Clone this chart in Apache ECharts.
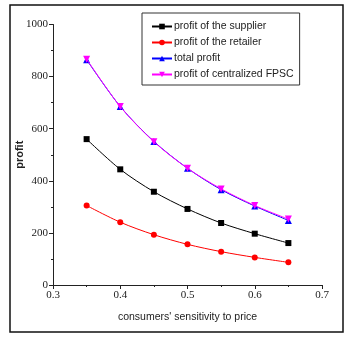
<!DOCTYPE html>
<html><head><meta charset="utf-8">
<script src="https://cdn.jsdelivr.net/npm/echarts@6/dist/echarts.min.js"></script>
<style>html,body{margin:0;padding:0;background:#fff}#c{width:344px;height:339px}</style>
</head><body><div id="c"></div>
<script>
const xValues = [0.35, 0.40, 0.45, 0.50, 0.55, 0.60, 0.65];
const supplierProfit = [560, 444, 358, 292, 238, 197, 161];
const retailerProfit = [305, 241, 193, 156, 128, 106, 87];
const totalProfit = [865, 685, 551, 448, 366, 303, 248];
const centralizedProfit = [867, 685, 550, 448, 369, 305, 253];
const seriesNames = ['profit of the supplier', 'profit of the retailer', 'total profit', 'profit of centralized FPSC'];

const SANS = '"Liberation Sans", Arial, sans-serif';
const pairs = arr => xValues.map((x, i) => [x, arr[i]]);
const chart = echarts.init(document.getElementById('c'), null, {renderer: 'canvas'});
const mk = (name, data, color, symbol, size, z) => ({
  name, type: 'line', data: pairs(data), smooth: 0.3, symbol, symbolSize: size,
  itemStyle: {color}, lineStyle: {color, width: 1}, z, animation: false
});
chart.setOption({
  animation: false,
  graphic: [{type: 'rect', shape: {x: 10, y: 5, width: 333, height: 327},
    style: {fill: 'none', stroke: '#111', lineWidth: 1.5}, silent: true}],
  grid: {left: 53, right: 22, top: 24.5, bottom: 54},
  legend: {
    orient: 'vertical', left: 142, top: 13,
    padding: [8, 6, 5, 9], itemGap: 5, itemWidth: 20, itemHeight: 7,
    borderColor: '#333', borderWidth: 1,
    textStyle: {fontFamily: SANS, fontSize: 10.5, color: '#222', padding: [0, 0, 0, -3]},
    data: seriesNames
  },
  xAxis: {
    type: 'value', min: 0.3, max: 0.7, interval: 0.1,
    name: "consumers' sensitivity to price", nameLocation: 'middle', nameGap: 27,
    nameMoveOverlap: false,
    nameTextStyle: {fontFamily: SANS, fontSize: 10.5, color: '#222'},
    axisLine: {lineStyle: {color: '#222', width: 1}},
    axisTick: {show: true, inside: false, length: 4, lineStyle: {color: '#222'}},
    minorTick: {show: true, splitNumber: 2, length: 2, lineStyle: {color: '#222'}},
    axisLabel: {fontFamily: 'Liberation Serif', fontSize: 11, color: '#222', margin: 5,
      formatter: v => (Math.round(v * 10) / 10).toString()},
    splitLine: {show: false}
  },
  yAxis: {
    type: 'value', min: 0, max: 1000, interval: 200,
    name: 'profit', nameLocation: 'middle', nameGap: 28,
    nameMoveOverlap: false,
    nameTextStyle: {fontFamily: SANS, fontSize: 11, fontWeight: 'bold', color: '#222'},
    axisLine: {show: true, lineStyle: {color: '#222', width: 1}},
    axisTick: {show: true, inside: false, length: 4, lineStyle: {color: '#222'}},
    minorTick: {show: true, splitNumber: 2, length: 2, lineStyle: {color: '#222'}},
    axisLabel: {fontFamily: 'Liberation Serif', fontSize: 11, color: '#222', margin: 5,
      formatter: v => String(v)},
    splitLine: {show: false}
  },
  series: [
    mk(seriesNames[0], supplierProfit, '#000000', 'rect', 6, 3),
    mk(seriesNames[1], retailerProfit, '#ff0000', 'circle', 6, 3),
    mk(seriesNames[2], totalProfit, '#0000ff', 'triangle', 7, 3),
    mk(seriesNames[3], centralizedProfit, '#ff00ff', 'path://M0,0 L10,0 L5,10 Z', 7, 4)
  ]
});
</script></body></html>
